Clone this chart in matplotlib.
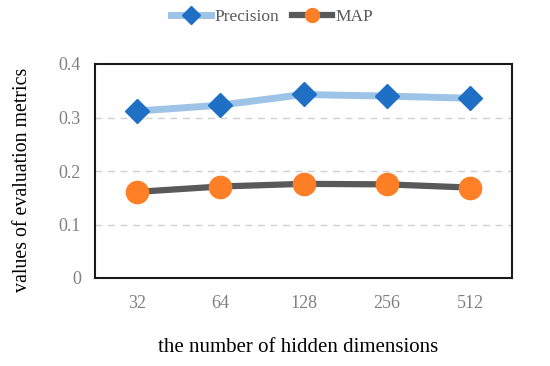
import matplotlib
matplotlib.use("Agg")
import matplotlib.pyplot as plt
from matplotlib.lines import Line2D

categories = ["32", "64", "128", "256", "512"]
precision = [0.312, 0.323, 0.343, 0.340, 0.336]
map_vals = [0.161, 0.171, 0.176, 0.175, 0.169]
yticks = [0, 0.1, 0.2, 0.3, 0.4]
ytick_labels = ["0", "0.1", "0.2", "0.3", "0.4"]

plt.rcParams['font.family'] = ['Liberation Serif', 'DejaVu Serif']

fig = plt.figure(figsize=(5.5, 3.66), dpi=100)
ax = fig.add_axes([95/550, 1-278/366, (512-95)/550, (278-64)/366])

x = list(range(len(categories)))
ax.plot(x, precision, color='#9DC3E6', lw=5, marker='D', ms=12,
        markerfacecolor='#1F6FC5', markeredgecolor='#1F6FC5', zorder=3, solid_capstyle='round')
ax.plot(x, map_vals, color='#595959', lw=4.5, marker='o', ms=16,
        markerfacecolor='#FF7F27', markeredgecolor='#FF7F27', zorder=3, solid_capstyle='round')

ax.set_xlim(-0.5, len(categories)-0.5)
ax.set_ylim(0, 0.4)
ax.set_yticks(yticks)
ax.set_yticklabels(ytick_labels)
ax.set_xticks(x)
ax.set_xticklabels(categories)
ax.tick_params(axis='both', length=0, labelsize=13, labelcolor='#808080')
ax.tick_params(axis='x', pad=12)
ax.tick_params(axis='y', pad=10)
for yv in yticks[1:-1]:
    ax.axhline(yv, color='#D0D0D0', lw=1, ls=(0, (5, 4)), zorder=1)
for s in ax.spines.values():
    s.set_color('#1a1a1a')
    s.set_linewidth(1.5)

ax.set_xlabel("the number of hidden dimensions", fontsize=15)
ax.set_ylabel("values of evaluation metrics", fontsize=14.3)
ax.xaxis.set_label_coords((298-95)/417, (278-347)/214)
ax.xaxis.label.set_va('center')
ax.yaxis.set_label_coords((23-95)/417, (278-180)/214)
ax.yaxis.label.set_va('center')

handles = [
    Line2D([0], [0], color='#9DC3E6', lw=5, marker='D', ms=9,
           markerfacecolor='#1F6FC5', markeredgecolor='#1F6FC5'),
    Line2D([0], [0], color='#595959', lw=4.5, marker='o', ms=10,
           markerfacecolor='#FF7F27', markeredgecolor='#FF7F27'),
]
fig.legend(handles, ["Precision", "MAP"], loc='center', bbox_to_anchor=(272/550, 1-17/366),
           ncol=2, frameon=False, fontsize=12.5, handlelength=2.3, handletextpad=0.2,
           columnspacing=0.75, labelcolor='#595959')

fig.savefig("out.png", dpi=100)
